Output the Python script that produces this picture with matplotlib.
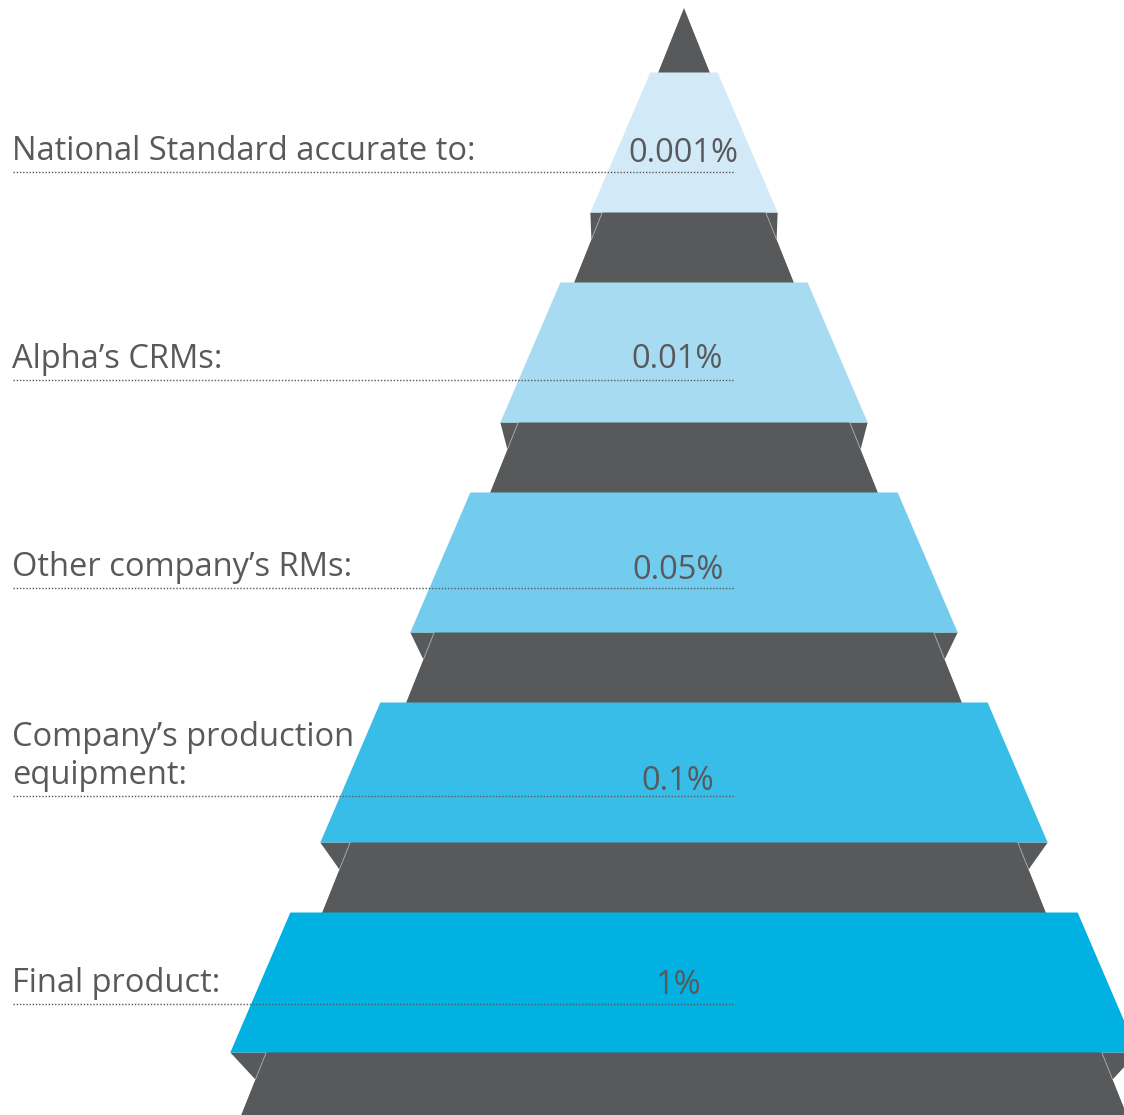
import matplotlib.pyplot as plt
from matplotlib.patches import Polygon

labels = [
    "National Standard accurate to:",
    "Alpha\u2019s CRMs:",
    "Other company\u2019s RMs:",
    "Company\u2019s production\nequipment:",
    "Final product:",
]
values = ["0.001%", "0.01%", "0.05%", "0.1%", "1%"]
band_colors = ["#d2eaf7", "#a7dbf1", "#73cbed", "#38bde8", "#00b1e2"]

# layout (pixels)
pct_x = [683, 677, 678, 678, 678]
pct_dy = [10, 12, 9, 6, 10]
gray = "#58595b"
W, H = 1124, 1115
cx = 684

fig = plt.figure(figsize=(W / 100, H / 100), dpi=100)
ax = fig.add_axes([0, 0, 1, 1])
ax.set_xlim(0, W)
ax.set_ylim(H, 0)
ax.axis("off")


def tri_hw(y):
    # half width of the grey pyramid
    return 0.4 * (y - 8)


def band_hw(y):
    # half width of the blue bands (slightly wider, steeper)
    return 0.4286 * (y + 6)


ybot = H + 50
ax.add_patch(Polygon([(cx, 8), (cx - tri_hw(ybot), ybot), (cx + tri_hw(ybot), ybot)],
                     closed=True, fc=gray, ec="none", zorder=1))

for i, (lab, val, col) in enumerate(zip(labels, values, band_colors)):
    yt = 72.5 + 210 * i
    yb = yt + 140
    # shadow notches under each band
    for s in (-1, 1):
        ax.add_patch(Polygon([(cx + s * band_hw(yb), yb), (cx + s * tri_hw(yb), yb),
                              (cx + s * tri_hw(yb + 27), yb + 27)],
                             closed=True, fc=gray, ec="none", zorder=2))
        ax.plot([cx + s * tri_hw(yb), cx + s * tri_hw(yb + 27)], [yb, yb + 27],
                color="#a8a9ab", lw=0.6, zorder=3)
    ax.add_patch(Polygon([(cx - band_hw(yt), yt), (cx + band_hw(yt), yt),
                          (cx + band_hw(yb), yb), (cx - band_hw(yb), yb)],
                         closed=True, fc=col, ec="none", zorder=4))

    yline = 172 + 208 * i
    ax.plot([13, 735], [yline, yline], color=gray, lw=1.0,
            linestyle=(0, (1, 1.3)), zorder=5)
    ax.text(12, yline - 12, lab, fontsize=23.5, family="Open Sans", color=gray,
            ha="left", va="baseline", linespacing=1.2, zorder=6)
    ax.text(pct_x[i], yline - pct_dy[i], val, fontsize=23.5, family="Open Sans",
            color=gray, ha="center", va="baseline", zorder=6)

fig.savefig("out.png", dpi=100, facecolor="white")
